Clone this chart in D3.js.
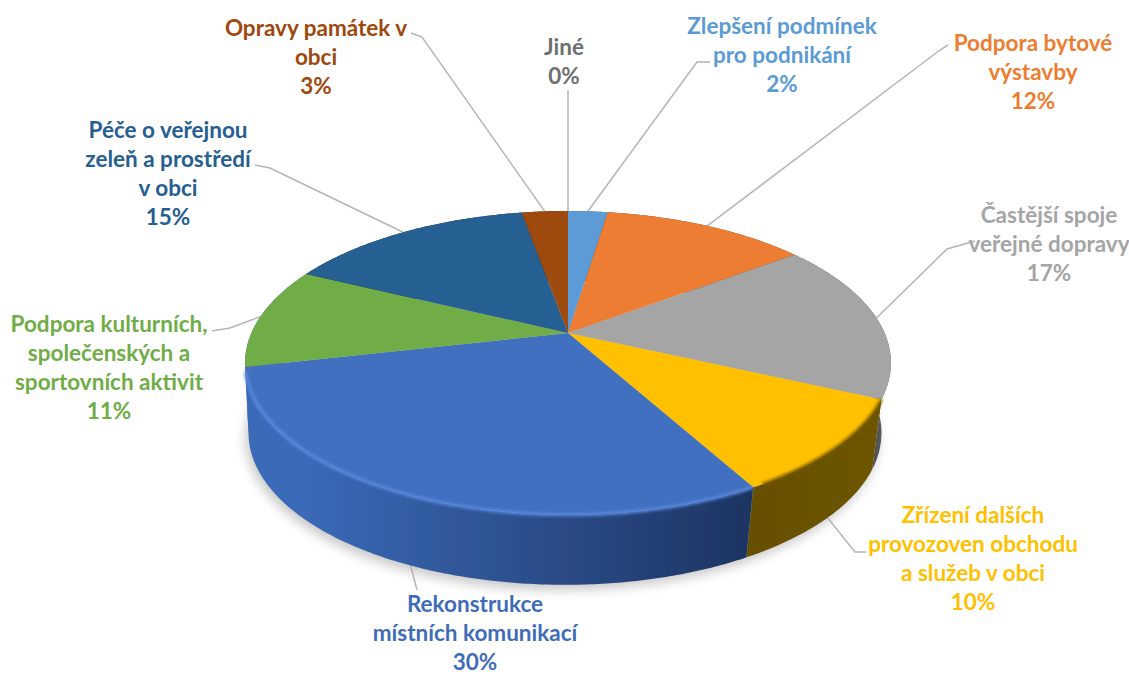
<!DOCTYPE html>
<html>
<head>
<meta charset="utf-8">
<script src="https://cdn.jsdelivr.net/npm/d3@7"></script>
<style>
	body { margin: 0; background: #fff; }
	text { font-family: Lato, "Open Sans", sans-serif; font-weight: 700; font-size: 22.5px; }
</style>
</head>
<body>
<svg id="chart" width="1129" height="675"></svg>
<script>
// data, clockwise from 12 o'clock
const categories = [
	["Jiné"],
	["Zlepšení podmínek", "pro podnikání"],
	["Podpora bytové", "výstavby"],
	["Častější spoje", "veřejné dopravy"],
	["Zřízení dalších", "provozoven obchodu", "a služeb v obci"],
	["Rekonstrukce", "místních komunikací"],
	["Podpora kulturních,", "společenských a", "sportovních aktivit"],
	["Péče o veřejnou", "zeleň a prostředí", "v obci"],
	["Opravy památek v", "obci"]
];
const shares = [0, 2.4, 12.4, 17.1, 10.1, 29.5, 10.8, 15, 2.8];

// styles and layout
const topColors = ["#7f7f7f", "#5b9bd5", "#ed7d31", "#a5a5a5", "#ffc000", "#4270c0", "#70ad47", "#255e91", "#9e480e"];
const labelColors = ["#6f6f6f", "#5b9bd5", "#ed7d31", "#a5a5a5", "#ffc000", "#3f6cb8", "#70ad47", "#255e91", "#9e480e"];
const labelCenters = [[564, 47], [782, 26], [1033, 43], [1049, 215], [973, 515], [475, 604], [109, 324], [168, 130], [316, 28]];
// elbow points of the leader lines, the rim end is computed from the slice
const leaderElbows = [
	[[568, 90]],
	[[710, 62], [697, 62]],
	[[948, 45], [940, 50]],
	[[975, 241], [947, 249]],
	[[866, 552], [855, 552]],
	[[417, 590]],
	[[212, 331], [230, 328]],
	[[255, 165], [270, 168]],
	[[411, 33], [422, 37]]
];
const sideGradients = [
	["#555", "#555"], ["#555", "#555"], ["#555", "#555"],
	["#4a4a4a", "#5f5f5f"],
	["#664f00", "#6e5500"],
	["#3b6ab9", "#1d3461"],
	["#3b6ab9", "#3b6ab9"], ["#333", "#333"], ["#333", "#333"]
];
const bevelColors = [null, null, null, null, "#7a5c00", "#5a8ae0", null, null, null];

const lineGap = 29, apexX = 568, apexY = 333, depth = 70;
// tilted disc: unit circle to screen with perspective
const persp = 0.197, scaleU = 316.6, scaleV = 146;

function project(angle, lower) {
	let u = Math.sin(angle), v = -Math.cos(angle);
	let w = 1 - persp * v;
	let x = scaleU * u / w, y = scaleV * v / w;
	if (lower) return [apexX - 3 + x * 0.98, apexY + y + depth];
	return [apexX + x, apexY + y];
}

function rimPoints(a0, a1, lower) {
	let n = Math.max(2, Math.ceil((a1 - a0) / 0.01));
	return d3.range(n + 1).map(i => project(a0 + (a1 - a0) * i / n, lower));
}

const svg = d3.select("#chart");
const defs = svg.append("defs");
defs.append("filter").attr("id", "soft").attr("x", "-20%").attr("y", "-20%").attr("width", "140%").attr("height", "140%")
	.append("feGaussianBlur").attr("stdDeviation", 6);
defs.append("filter").attr("id", "bevel").attr("x", "-20%").attr("y", "-20%").attr("width", "140%").attr("height", "140%")
	.append("feGaussianBlur").attr("stdDeviation", 1.6);
defs.append("filter").attr("id", "fine").attr("x", "-5%").attr("y", "-5%").attr("width", "110%").attr("height", "110%")
	.append("feGaussianBlur").attr("stdDeviation", 0.5);

const pie = d3.pie().sort(null).value(d => d)(shares);
const line = d3.line();
const fmt = d3.format(".0f");

sideGradients.forEach((c, i) => {
	let g = defs.append("linearGradient").attr("id", "side" + i)
		.attr("gradientUnits", "userSpaceOnUse")
		.attr("x1", i === 5 ? 300 : i === 4 ? 750 : 870).attr("x2", i === 5 ? 750 : 885)
		.attr("y1", 0).attr("y2", 0);
	g.append("stop").attr("offset", 0).attr("stop-color", c[0]);
	g.append("stop").attr("offset", 1).attr("stop-color", c[1]);
});

// shadow under the disc
svg.append("path")
	.attr("d", line(rimPoints(0, 2 * Math.PI, true)) + "Z")
	.attr("transform", "translate(-3,5)")
	.attr("fill", "#000").attr("opacity", 0.22)
	.attr("filter", "url(#soft)");

// leader lines
svg.append("g").selectAll("path").data(pie).enter().append("path")
	.attr("d", (d, i) => {
		let mid = (d.startAngle + d.endAngle) / 2;
		let lower = i === 4 || i === 5;
		return line(leaderElbows[i].concat([project(mid, lower)]));
	})
	.attr("fill", "none").attr("stroke", "#b5b5b5").attr("stroke-width", 1.5);

const disc = svg.append("g").attr("filter", "url(#fine)");

// side wall
disc.append("g").selectAll("path").data(pie).enter().append("path")
	.attr("d", d => line(rimPoints(d.startAngle, d.endAngle, false)
		.concat(rimPoints(d.startAngle, d.endAngle, true).reverse())) + "Z")
	.attr("fill", (d, i) => `url(#side${i})`);

// top face
disc.append("g").selectAll("path").data(pie).enter().append("path")
	.attr("d", d => line([[apexX, apexY]].concat(rimPoints(d.startAngle, d.endAngle, false))) + "Z")
	.attr("fill", (d, i) => topColors[i]);

// soft bright edge between top and side, stops short so it does not bleed into green
disc.append("g").selectAll("path").data(pie.filter((d, i) => bevelColors[i])).enter().append("path")
	.attr("d", d => line(rimPoints(d.startAngle, d.endAngle - 0.03, false)))
	.attr("fill", "none")
	.attr("stroke", d => bevelColors[d.index])
	.attr("stroke-width", 3)
	.attr("filter", "url(#bevel)");

// labels
const labels = svg.append("g").selectAll("text").data(pie).enter().append("text")
	.attr("text-anchor", "middle")
	.attr("fill", (d, i) => labelColors[i])
	.attr("transform", (d, i) => `translate(${labelCenters[i][0]},${labelCenters[i][1]})`);

labels.selectAll("tspan")
	.data(d => categories[d.index].concat(fmt(d.data) + "%"))
	.enter().append("tspan")
	.attr("x", 0)
	.attr("y", (d, i) => i * lineGap)
	.attr("dy", "0.35em")
	.text(d => d);
</script>
</body>
</html>
